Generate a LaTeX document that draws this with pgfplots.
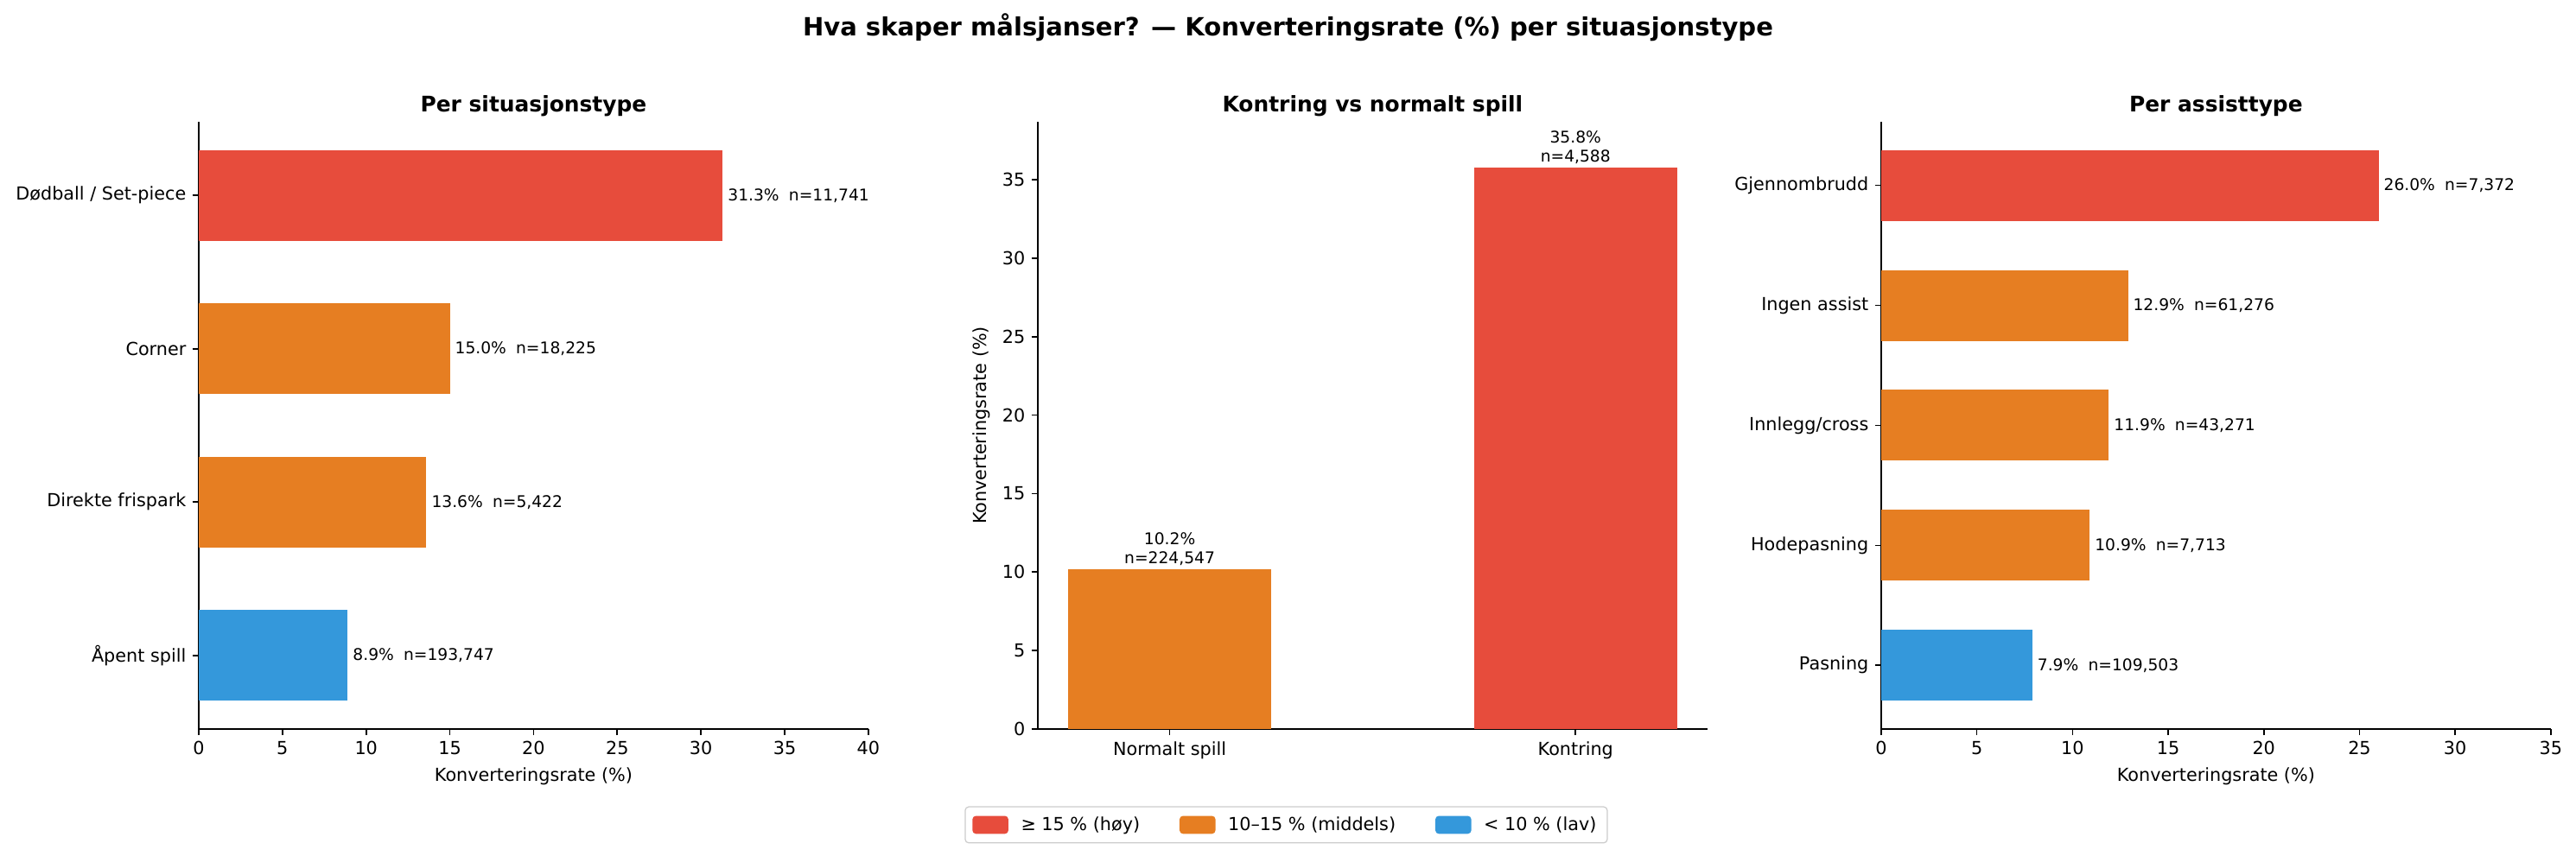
\documentclass[border=0pt]{standalone}
\usepackage{fontspec}
\setmainfont{DejaVu Sans}
\usepackage{pgfplots}
\pgfplotsset{compat=1.18}

\definecolor{hoy}{HTML}{E74C3C}
\definecolor{mid}{HTML}{E67E22}
\definecolor{lav}{HTML}{3498DB}
\definecolor{legframe}{HTML}{CCCCCC}

\pgfplotsset{
  panel/.style={
    width=372bp, height=337.4bp, scale only axis,
    anchor=south west,
    axis x line*=bottom, axis y line*=left,
    axis line style={line width=0.8bp, black},
    tick align=outside,
    major tick length=3.5bp,
    tick style={line width=0.8bp, black},
    ticklabel style={font=\fontsize{10}{12}\selectfont},
    label style={font=\fontsize{10}{12}\selectfont},
    title style={font=\fontsize{12}{14}\selectfont\bfseries, yshift=-6.5bp},
    /pgf/number format/assume math mode=true,
    point meta=explicit symbolic,
    nodes near coords,
    nodes near coords style={font=\fontsize{9}{11}\selectfont, text=black, inner sep=2.7bp},
  },
  hbar/.style={xbar, bar width=0.59, bar shift=0pt, draw=none, fill=#1,
    every node near coord/.append style={anchor=west}},
  vbar/.style={ybar, bar width=0.5, bar shift=0pt, draw=none, fill=#1,
    every node near coord/.append style={anchor=south}},
}

\begin{document}
\begin{tikzpicture}
\path[use as bounding box] (0,0) rectangle (1431bp,475.7bp);

\node[font=\fontsize{14}{17}\selectfont\bfseries] at (715.5bp,460.3bp)
  {Hva skaper målsjanser? — Konverteringsrate (\%) per situasjonstype};

% Panel 1: per situasjonstype
\begin{axis}[panel, at={(110.4bp,70.6bp)},
    title={Per situasjonstype},
    xmin=0, xmax=40, xtick={0,5,...,40},
    ymin=-0.48, ymax=3.48, ytick={0,1,2,3},
    yticklabels={Åpent spill, Direkte frispark, Corner, Dødball / Set-piece},
    xlabel={Konverteringsrate (\%)},
]
\addplot[hbar=hoy] coordinates {(31.3,3) [31.3\%\hspace{0.6em}n=11,741]};
\addplot[hbar=mid] coordinates {(15.0,2) [15.0\%\hspace{0.6em}n=18,225]};
\addplot[hbar=mid] coordinates {(13.6,1) [13.6\%\hspace{0.6em}n=5,422]};
\addplot[hbar=lav] coordinates {(8.9,0) [8.9\%\hspace{0.6em}n=193,747]};
\end{axis}

% Panel 2: kontring vs normalt spill
\begin{axis}[panel, at={(576.5bp,70.6bp)},
    title={Kontring vs normalt spill},
    xmin=-0.325, xmax=1.325, xtick={0,1},
    xticklabels={Normalt spill, Kontring},
    ymin=0, ymax=38.7, ytick={0,5,...,35},
    ylabel={Konverteringsrate (\%)},
    nodes near coords style={align=center, inner sep=1.5bp},
    legend columns=3,
    legend cell align=left,
    legend style={at={(0.371,-0.158)}, anchor=center,
      draw=legframe, rounded corners=2bp, line width=0.6bp,
      font=\fontsize{10}{12}\selectfont, inner xsep=4bp, inner ysep=3.5bp,
      /tikz/every odd column/.append style={column sep=5bp},
      /tikz/every even column/.append style={column sep=20bp}},
    legend image code/.code={\fill[#1, draw=none] (0bp,-5bp) rectangle (20bp,5bp);},
]
\addlegendimage{fill=hoy}
\addlegendentry{≥ 15 \% (høy)}
\addlegendimage{fill=mid}
\addlegendentry{10–15 \% (middels)}
\addlegendimage{fill=lav}
\addlegendentry{< 10 \% (lav)}
\addplot[vbar=mid] coordinates {(0,10.2) [10.2\%\\n=224,547]};
\addplot[vbar=hoy] coordinates {(1,35.8) [35.8\%\\n=4,588]};
\end{axis}

% Panel 3: per assisttype
\begin{axis}[panel, at={(1045bp,70.6bp)},
    title={Per assisttype},
    xmin=0, xmax=35, xtick={0,5,...,35},
    ymin=-0.53, ymax=4.53, ytick={0,1,2,3,4},
    yticklabels={Pasning, Hodepasning, Innlegg/cross, Ingen assist, Gjennombrudd},
    xlabel={Konverteringsrate (\%)},
]
\addplot[hbar=hoy] coordinates {(26.0,4) [26.0\%\hspace{0.6em}n=7,372]};
\addplot[hbar=mid] coordinates {(12.9,3) [12.9\%\hspace{0.6em}n=61,276]};
\addplot[hbar=mid] coordinates {(11.9,2) [11.9\%\hspace{0.6em}n=43,271]};
\addplot[hbar=mid] coordinates {(10.9,1) [10.9\%\hspace{0.6em}n=7,713]};
\addplot[hbar=lav] coordinates {(7.9,0) [7.9\%\hspace{0.6em}n=109,503]};
\end{axis}
\end{tikzpicture}
\end{document}
